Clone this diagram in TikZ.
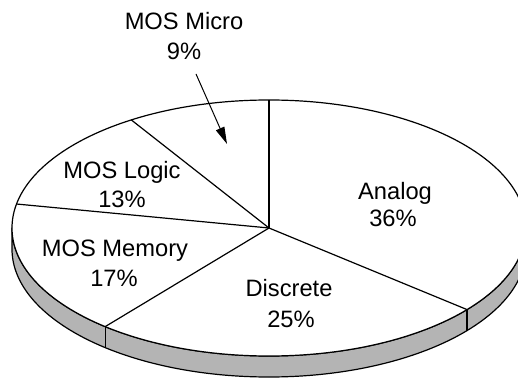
\documentclass[tikz,border=0pt]{standalone}
\usepackage{fontspec}
\setmainfont{Liberation Sans}
\usetikzlibrary{arrows.meta,calc}
\definecolor{sidegray}{RGB}{180,180,180}
\begin{document}
\begin{tikzpicture}[x=1pt,y=1pt,
  edge/.style={line width=1.2pt, line join=round},
  lbl/.style={anchor=base, inner sep=0pt, font=\fontsize{23.7pt}{30pt}\selectfont},
  pointer/.style={line width=1pt, -{Triangle[length=17pt,width=9pt]}},
]
\useasboundingbox (0,0) rectangle (518,377);
\clip (0,0) rectangle (518,377);
\def\rx{257}\def\ry{128}\def\th{21}
% pie centre and the slice boundaries on the rim (36, 25, 17, 13, 9 %)
\coordinate (c) at (269,149);
\coordinate (l) at ($(c)+(180:257 and 128)$);
\coordinate (pTop) at ($(c)+(90:257 and 128)$);
\coordinate (pA) at ($(c)+(-39.6:257 and 128)$);
\coordinate (pD) at ($(c)+(-129.6:257 and 128)$);
\coordinate (pM) at ($(c)+(169.2:257 and 128)$);
\coordinate (pL) at ($(c)+(122.4:257 and 128)$);
\coordinate (pAb) at ($(pA)+(0,-\th)$);
\coordinate (pDb) at ($(pD)+(0,-\th)$);
% side wall
\fill[sidegray] (l) arc[start angle=180,end angle=360,x radius=\rx,y radius=\ry]
  -- ++(0,-\th) arc[start angle=0,end angle=-180,x radius=\rx,y radius=\ry] -- cycle;
\draw[edge] (l) arc[start angle=180,end angle=360,x radius=\rx,y radius=\ry]
  -- ++(0,-\th) arc[start angle=0,end angle=-180,x radius=\rx,y radius=\ry] -- cycle;
\draw[edge] (pA) -- (pAb);
\draw[edge] (pD) -- (pDb);
% top face
\draw[edge, fill=white] (c) ellipse[x radius=\rx, y radius=\ry];
\draw[edge] (c) -- (pTop);
\draw[edge] (c) -- (pA);
\draw[edge] (c) -- (pD);
\draw[edge] (c) -- (pM);
\draw[edge] (c) -- (pL);
% labels
\node[lbl] (micro) at (184,347) {MOS Micro};
\node[lbl] (micropct) at (184,317) {9\%};
\node[lbl] (logic) at (122,198) {MOS Logic};
\node[lbl] (logicpct) at (122,169) {13\%};
\node[lbl] (memory) at (115,120) {MOS Memory};
\node[lbl] (memorypct) at (114,90) {17\%};
\node[lbl] (analog) at (395,177) {Analog};
\node[lbl] (analogpct) at (393,150) {36\%};
\node[lbl] (discrete) at (289,81) {Discrete};
\node[lbl] (discretepct) at (291,50) {25\%};
% pointer to the small slice
\coordinate (arrS) at (196,303);
\coordinate (arrE) at (227,233);
\draw[pointer] (arrS) -- (arrE);
\end{tikzpicture}
\end{document}
